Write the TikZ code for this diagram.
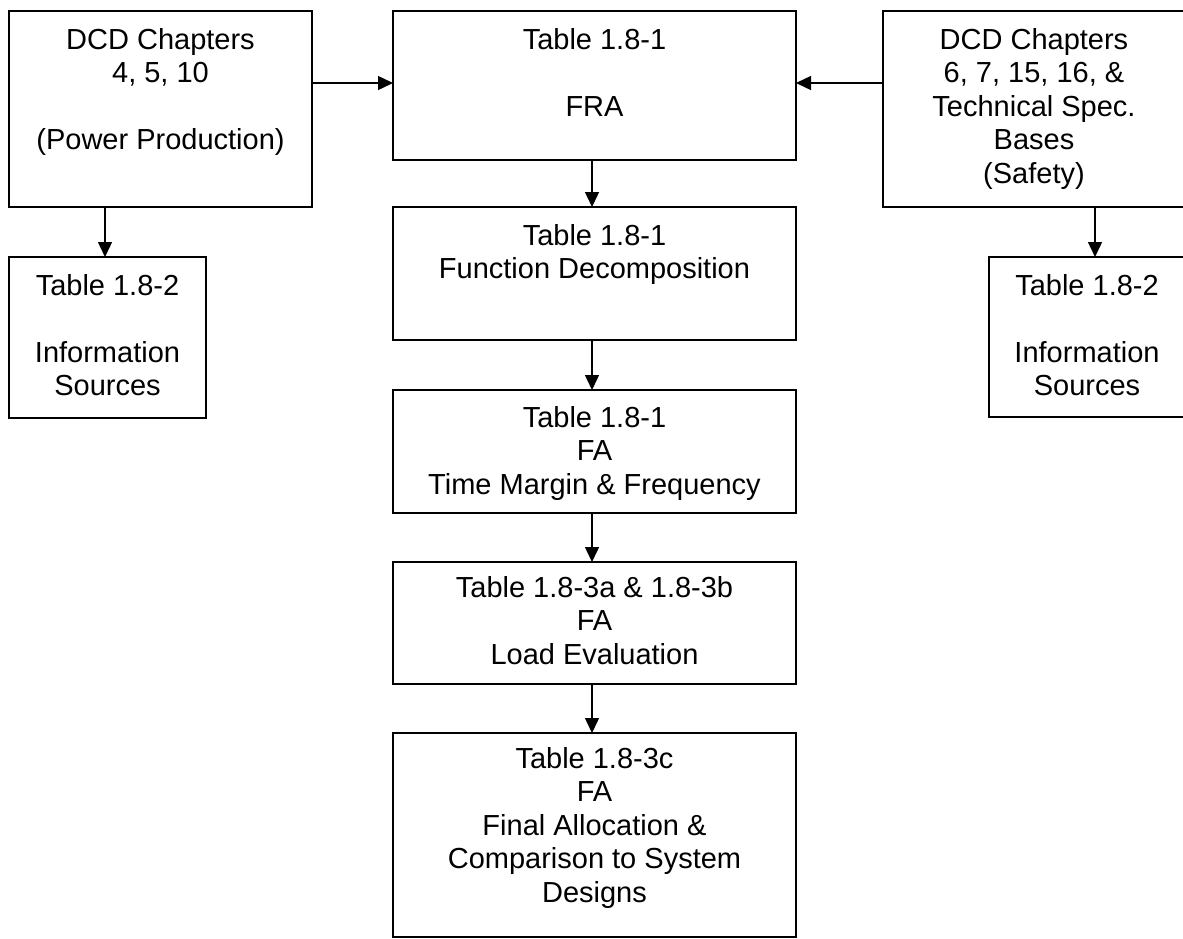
\documentclass[tikz,border=0pt]{standalone}
\usepackage{fontspec}
\setmainfont{Liberation Sans}
\usetikzlibrary{arrows.meta}
% box body: width, height, first-baseline offset, lines
\newcommand{\boxtext}[4]{\parbox[c][#2][t]{#1}{\centering\rule{0pt}{#3}#4\par}}
\begin{document}
\begin{tikzpicture}[x=1pt,y=-1pt,
  box/.style={draw, line width=1.3pt, inner sep=0pt, outer sep=0pt,
    anchor=north west, font=\fontsize{29}{33.5}\selectfont},
  arr/.style={line width=1.4pt, -{Triangle[length=15pt,width=14pt]}}]
\useasboundingbox (0,0) rectangle (1183,938);
\clip (0,0) rectangle (1183,938);

% source boxes
\node[box] (lt) at (9,11) {\boxtext{303pt}{196pt}{38pt}{DCD Chapters\\4, 5, 10\\[33.5pt](Power Production)}};
\node[box] (rt) at (883,11) {\boxtext{302pt}{196pt}{38pt}{DCD Chapters\\6, 7, 15, 16, \&\\Technical Spec.\\Bases\\(Safety)}};
\node[box] (li) at (9,257) {\boxtext{197pt}{161pt}{38pt}{Table 1.8-2\\[33.5pt]Information\\Sources}};
\node[box] (ri) at (989,257) {\boxtext{196pt}{160pt}{38pt}{Table 1.8-2\\[33.5pt]Information\\Sources}};

% central chain
\node[box] (fra) at (393,11) {\boxtext{403pt}{149pt}{38pt}{Table 1.8-1\\[33.5pt]FRA}};
\node[box] (fd) at (393,207) {\boxtext{403pt}{133pt}{38pt}{Table 1.8-1\\Function Decomposition}};
\node[box] (fa) at (393,390) {\boxtext{403pt}{123pt}{37pt}{Table 1.8-1\\FA\\Time Margin \& Frequency}};
\node[box] (ld) at (393,562) {\boxtext{403pt}{122pt}{35pt}{Table 1.8-3a \& 1.8-3b\\FA\\Load Evaluation}};
\node[box] (fin) at (393,733) {\boxtext{403pt}{204pt}{35pt}{Table 1.8-3c\\FA\\Final Allocation \&\\Comparison to System\\Designs}};

% connector guide positions
\coordinate (ya) at (0,83);
\coordinate (xc) at (592,0);
\coordinate (xl) at (105,0);
\coordinate (xr) at (1095,0);

\draw[arr] (lt.east |- ya) -- (fra.west |- ya);
\draw[arr] (rt.west |- ya) -- (fra.east |- ya);
\draw[arr] (lt.south -| xl) -- (li.north -| xl);
\draw[arr] (rt.south -| xr) -- (ri.north -| xr);
\draw[arr] (fra.south -| xc) -- (fd.north -| xc);
\draw[arr] (fd.south -| xc) -- (fa.north -| xc);
\draw[arr] (fa.south -| xc) -- (ld.north -| xc);
\draw[arr] (ld.south -| xc) -- (fin.north -| xc);
\end{tikzpicture}
\end{document}
